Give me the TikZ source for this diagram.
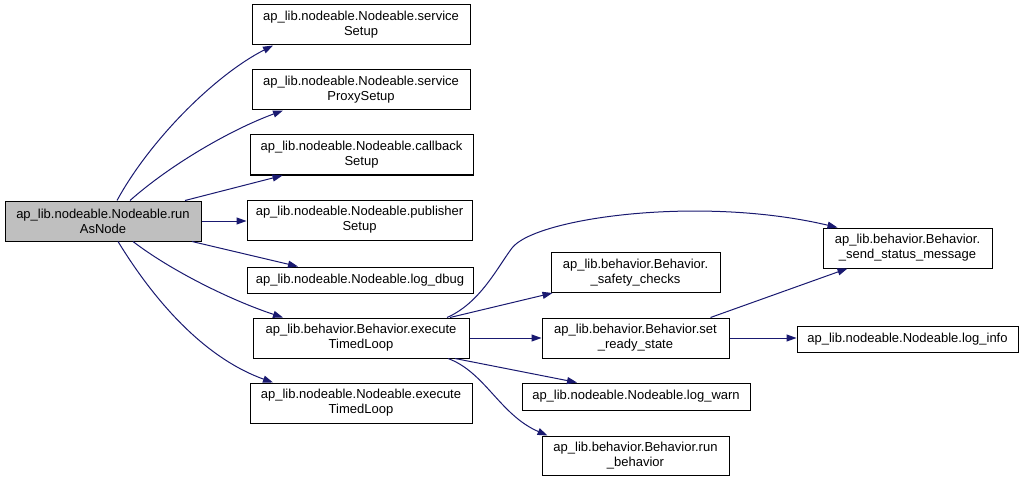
\documentclass[tikz,border=0pt]{standalone}
\usepackage{fontspec}
\setmainfont{Liberation Sans}
\usetikzlibrary{arrows.meta}
\definecolor{edgeblue}{HTML}{191970}
\definecolor{maingrey}{HTML}{BFBFBF}
\begin{document}
\begin{tikzpicture}[x=1pt,y=-1pt,
  box/.style={draw=black, line width=1pt, fill=white, align=center, inner sep=0pt,
    font=\fontsize{13}{15}\selectfont},
  conn/.style={draw=edgeblue, line width=1pt, -{Triangle[length=10pt,width=7pt]}}]
\useasboundingbox (0,0) rectangle (1024,481);
\node[box, fill=maingrey, minimum width=196pt, minimum height=40pt] (main) at (103,221) {ap\_lib.nodeable.Nodeable.run\\AsNode};
\node[box, minimum width=218pt, minimum height=40pt] (ss) at (361,25) {ap\_lib.nodeable.Nodeable.service\\Setup};
\node[box, minimum width=218pt, minimum height=40pt] (sps) at (361,90) {ap\_lib.nodeable.Nodeable.service\\ProxySetup};
\node[box, minimum width=223pt, minimum height=40pt] (cs) at (361.5,155) {ap\_lib.nodeable.Nodeable.callback\\Setup};
\node[box, minimum width=225pt, minimum height=40pt] (ps) at (359.5,220) {ap\_lib.nodeable.Nodeable.publisher\\Setup};
\node[box, minimum width=226pt, minimum height=26pt] (ld) at (360,280) {ap\_lib.nodeable.Nodeable.log\_dbug};
\node[box, minimum width=216pt, minimum height=40pt] (be) at (361,338) {ap\_lib.behavior.Behavior.execute\\TimedLoop};
\node[box, minimum width=222pt, minimum height=40pt] (ne) at (361,403) {ap\_lib.nodeable.Nodeable.execute\\TimedLoop};
\node[box, minimum width=169pt, minimum height=40pt] (sc) at (635.5,272.5) {ap\_lib.behavior.Behavior.\\\_safety\_checks};
\node[box, minimum width=187pt, minimum height=40pt] (sr) at (635.5,338) {ap\_lib.behavior.Behavior.set\\\_ready\_state};
\node[box, minimum width=228pt, minimum height=27pt] (lw) at (636,396.5) {ap\_lib.nodeable.Nodeable.log\_warn};
\node[box, minimum width=187pt, minimum height=39pt] (rb) at (635.5,455.5) {ap\_lib.behavior.Behavior.run\\\_behavior};
\node[box, minimum width=169pt, minimum height=40pt] (sm) at (907.5,248) {ap\_lib.behavior.Behavior.\\\_send\_status\_message};
\node[box, minimum width=221pt, minimum height=26pt] (li) at (907.5,339) {ap\_lib.nodeable.Nodeable.log\_info};

\draw[conn] ([xshift=14pt]main.north) .. controls (150,140) and (215,75) .. ([xshift=-88pt]ss.south);
\draw[conn] ([xshift=27pt]main.north) .. controls (170,165) and (230,130) .. ([xshift=-78pt]sps.south);
\draw[conn] ([xshift=82pt]main.north) -- ([xshift=-79pt]cs.south);
\draw[conn] (main.east) -- (main.east -| ps.west);
\draw[conn] ([xshift=89pt]main.south) -- ([xshift=-62pt]ld.north);
\draw[conn] ([xshift=30pt]main.south) .. controls (170,270) and (230,300) .. ([xshift=-78pt]be.north);
\draw[conn] ([xshift=15pt]main.south) .. controls (160,310) and (210,360) .. ([xshift=-88pt]ne.north);
\draw[conn] ([xshift=86pt]be.north) .. controls (480,303) and (497,268) .. (512,248)
  .. controls (535,218) and (700,195) .. ([xshift=-70pt]sm.north);
\draw[conn] ([xshift=89pt]be.north) -- ([xshift=-83pt]sc.south);
\draw[conn] (be.east) -- (sr.west);
\draw[conn] ([xshift=94pt]be.south) -- ([xshift=-59pt]lw.north);
\draw[conn] ([xshift=87pt]be.south) .. controls (485,372) and (500,415) .. ([xshift=-88pt]rb.north);
\draw[conn] ([xshift=75pt]sr.north) -- ([xshift=-60pt]sm.south);
\draw[conn] (sr.east) -- (sr.east -| li.west);
\end{tikzpicture}
\end{document}
